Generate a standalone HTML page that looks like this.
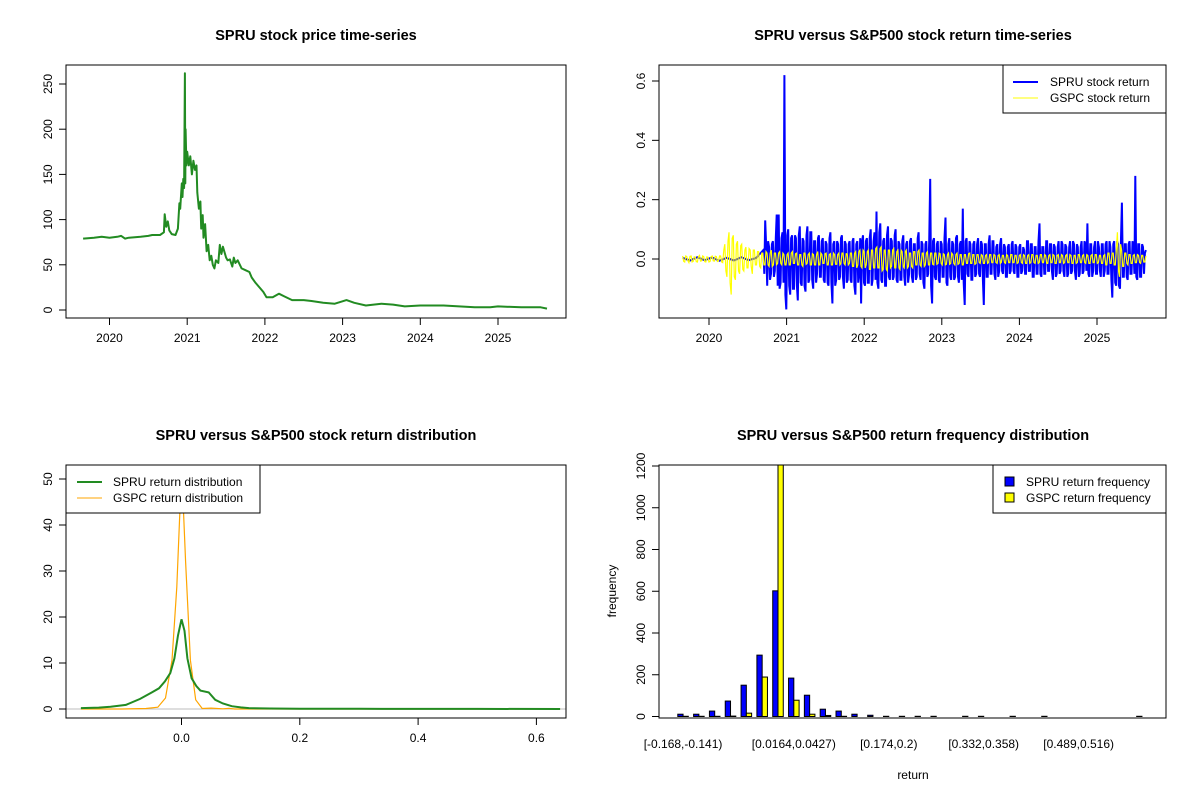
<!DOCTYPE html>
<html><head><meta charset="utf-8"><style>
body{margin:0;background:#fff}
svg{display:block;font-family:"Liberation Sans",Arial,sans-serif}
</style></head><body>
<svg id="c" width="1200" height="800" viewBox="0 0 1200 800" xmlns="http://www.w3.org/2000/svg">
<rect width="1200" height="800" fill="#fff"/>
</svg>
<script>
// ---- Panel 1 data: price
const priceDates=[2019.66,2019.8,2019.9,2020.0,2020.1,2020.15,2020.2,2020.25,2020.4,2020.5,2020.55,2020.65,2020.7,2020.71,2020.73,2020.75,2020.77,2020.8,2020.85,2020.88,2020.9,2020.91,2020.93,2020.94,2020.95,2020.96,2020.97,2020.975,2020.98,2020.99,2021.0,2021.02,2021.04,2021.06,2021.08,2021.1,2021.12,2021.13,2021.15,2021.17,2021.18,2021.2,2021.21,2021.23,2021.25,2021.27,2021.29,2021.31,2021.33,2021.35,2021.37,2021.4,2021.42,2021.44,2021.46,2021.5,2021.52,2021.55,2021.58,2021.6,2021.62,2021.65,2021.7,2021.75,2021.8,2021.83,2021.88,2021.92,2021.98,2022.02,2022.1,2022.18,2022.25,2022.35,2022.5,2022.6,2022.75,2022.9,2023.05,2023.15,2023.3,2023.5,2023.65,2023.8,2024.0,2024.3,2024.5,2024.7,2024.9,2025.0,2025.3,2025.55,2025.63];
const priceValues=[79,80,81,80,81,82,79,80,81,82,83,83,86,106,92,98,88,84,83,90,118,112,140,125,145,135,262,140,200,160,175,160,170,150,165,155,160,130,112,120,90,105,80,95,65,72,55,60,50,46,55,52,72,62,70,58,55,56,48,58,52,55,46,44,42,36,30,26,20,14,14,18,15,11,11,10,8,7,11,8,5,7,6,4,5,5,4,3,3,4,3,3,1.5];
const priceYTicks=[0,50,100,150,200,250];
const yearTicks=[2020,2021,2022,2023,2024,2025];
// ---- Panel 2 data: returns (A = odd sessions, B = even sessions, interleaved)
const bluePre=[0.004,-0.005,0.006,-0.004,0.005,-0.006,0.004,-0.005,0.006,-0.004,0.003];
const blueReturns=[0.03,0.13,-0.09,0.04,-0.05,0.06,-0.04,0.15,0.15,-0.08,
0.09,0.62,-0.17,0.10,-0.12,0.08,-0.10,0.07,-0.14,0.11,
-0.09,0.06,-0.11,0.11,-0.07,0.09,-0.10,0.06,-0.05,0.08,
-0.06,0.07,-0.08,0.05,-0.09,0.09,-0.15,0.06,-0.07,0.05,
-0.06,0.08,-0.10,0.05,-0.07,0.06,-0.08,0.07,-0.12,0.06,
-0.05,-0.15,0.08,-0.09,0.07,-0.08,0.10,-0.07,0.09,0.16,
-0.10,0.12,-0.08,0.07,-0.09,0.11,-0.07,0.06,-0.06,0.10,
-0.08,0.05,-0.07,0.08,-0.09,0.06,-0.05,0.07,-0.08,0.05,
-0.06,0.09,-0.07,0.05,-0.10,0.06,-0.05,0.27,-0.15,0.07,
-0.07,0.06,-0.08,0.05,-0.06,0.14,-0.09,0.07,-0.07,0.05,
-0.06,0.08,-0.08,0.06,0.17,-0.155,0.07,-0.06,0.05,-0.07,
0.06,-0.05,0.07,-0.06,0.05,-0.155,0.05,-0.06,0.08,-0.05,
0.06,-0.07,0.05,-0.04,0.07,-0.05,0.04,-0.06,0.05,-0.04,
0.06,-0.05,0.04,-0.06,0.05,-0.04,0.03,-0.05,0.06,-0.04,
0.05,-0.06,0.04,-0.05,0.12,-0.06,0.04,-0.05,0.06,-0.04,
0.05,-0.07,0.04,-0.05,0.06,-0.04,0.05,-0.06,0.04,-0.05,
0.06,-0.04,0.05,-0.07,0.04,-0.05,0.06,-0.04,0.05,0.12,
-0.06,0.05,-0.04,0.06,-0.05,0.04,-0.06,0.05,-0.04,0.06,
-0.05,0.04,-0.13,0.06,-0.09,0.05,-0.10,0.19,-0.06,0.05,
-0.07,0.06,-0.05,0.04,0.28,-0.07,0.05,-0.06,0.04,0.02];
const blueReturnsB=[-0.05,0.04,0.06,-0.07,0.05,-0.06,0.07,-0.09,-0.10,0.07,
-0.08,-0.12,0.08,-0.09,0.07,-0.10,0.08,-0.09,0.08,-0.08,
0.07,-0.09,0.08,-0.08,0.09,-0.07,0.06,-0.08,0.07,-0.06,
0.06,-0.07,0.06,-0.08,0.07,-0.08,0.05,-0.09,0.06,-0.07,
0.07,-0.06,0.06,-0.08,0.05,-0.07,0.06,-0.09,0.05,-0.08,
0.07,0.06,-0.08,0.06,-0.08,0.07,-0.09,0.06,-0.07,-0.08,
0.09,-0.07,0.06,-0.09,0.08,-0.06,0.07,-0.07,0.08,-0.07,
0.06,-0.07,0.06,-0.06,0.05,-0.08,0.06,-0.06,0.05,-0.07,
0.07,-0.05,0.06,-0.08,0.05,-0.06,0.06,-0.09,0.06,-0.06,
0.05,-0.07,0.06,-0.06,0.07,-0.08,0.05,-0.06,0.06,-0.07,
0.07,-0.06,0.05,-0.07,-0.08,0.06,-0.05,0.06,-0.07,0.05,
-0.06,0.05,-0.05,0.06,-0.07,0.05,-0.06,0.05,-0.05,0.06,
-0.05,0.04,-0.06,0.05,-0.04,0.05,-0.06,0.04,-0.05,0.05,
-0.04,0.05,-0.06,0.04,-0.05,0.04,-0.05,0.06,-0.04,0.05,
-0.06,0.04,-0.05,0.06,-0.05,0.04,-0.05,0.06,-0.04,0.05,
-0.04,0.05,-0.06,0.04,-0.05,0.06,-0.04,0.05,-0.06,0.04,
-0.05,0.06,-0.04,0.05,-0.06,0.04,-0.05,0.06,-0.04,-0.05,
0.05,-0.06,0.04,-0.05,0.06,-0.04,0.05,-0.06,0.05,-0.05,
0.06,-0.07,0.05,-0.08,0.06,-0.09,0.07,-0.06,0.05,-0.06,
0.05,-0.05,0.06,-0.05,-0.06,0.05,-0.06,0.05,-0.05,0.03];
const yellowReturns=[0.01,-0.01,0.008,-0.012,0.01,-0.008,0.006,-0.01,0.012,-0.006,
0.008,-0.01,0.006,-0.008,0.01,-0.007,0.008,-0.006,0.01,-0.012,
0.05,-0.06,0.09,-0.12,0.08,-0.07,0.06,-0.05,0.05,-0.04,
0.04,-0.03,0.03,-0.05,0.03,-0.02,0.025,-0.03,0.02,-0.02,
0.02,-0.025,0.03,-0.02,0.02,-0.015,0.025,-0.02,0.015,-0.02,
0.02,-0.02,0.025,-0.015,0.02,-0.02,0.015,-0.025,0.02,-0.015,
0.02,-0.02,0.015,-0.02,0.025,-0.02,0.015,-0.015,0.02,-0.02,
0.018,-0.02,0.015,-0.018,0.02,-0.015,0.02,-0.02,0.018,-0.015,
0.02,-0.025,0.025,-0.02,0.03,-0.03,0.025,-0.02,0.03,-0.035,
0.03,-0.03,0.04,-0.03,0.04,-0.035,0.03,-0.04,0.03,-0.025,
0.035,-0.03,0.03,-0.035,0.025,-0.03,0.03,-0.025,0.02,-0.03,
0.025,-0.02,0.03,-0.025,0.02,-0.02,0.025,-0.02,0.02,-0.02,
0.02,-0.015,0.018,-0.02,0.015,-0.018,0.02,-0.015,0.015,-0.02,
0.02,-0.015,0.015,-0.02,0.015,-0.015,0.02,-0.015,0.015,-0.015,
0.015,-0.015,0.012,-0.015,0.015,-0.012,0.015,-0.012,0.012,-0.015,
0.015,-0.012,0.012,-0.015,0.012,-0.012,0.015,-0.012,0.012,-0.012,
0.015,-0.015,0.012,-0.015,0.015,-0.012,0.015,-0.015,0.012,-0.012,
0.015,-0.012,0.012,-0.015,0.015,-0.012,0.012,-0.015,0.015,-0.012,
0.012,-0.012,0.015,-0.012,0.012,-0.015,0.012,-0.012,0.015,-0.012,
0.015,-0.015,0.012,-0.015,0.015,-0.012,0.015,-0.012,0.012,-0.015,
0.015,-0.02,0.02,-0.015,0.02,-0.02,0.09,-0.06,0.03,-0.025,
0.02,-0.02,0.015,-0.015,0.015,-0.012,0.012,-0.015,0.012,-0.01];
const yellowReturnsB=[-0.008,0.01,-0.006,0.009,-0.01,0.007,-0.009,0.008,-0.007,0.01,
-0.009,0.007,-0.01,0.008,-0.006,0.009,-0.008,0.01,-0.01,0.03,
-0.04,0.06,-0.08,0.07,-0.06,0.05,-0.04,0.045,-0.035,0.03,
-0.03,0.035,-0.025,0.03,-0.02,0.025,-0.025,0.02,-0.02,0.025,
-0.02,0.02,-0.025,0.02,-0.02,0.02,-0.015,0.02,-0.02,0.015,
-0.02,0.02,-0.015,0.018,-0.02,0.015,-0.02,0.02,-0.018,0.015,
-0.02,0.018,-0.02,0.015,-0.02,0.02,-0.015,0.018,-0.02,0.015,
-0.02,0.02,-0.018,0.015,-0.02,0.02,-0.015,0.018,-0.02,0.02,
-0.025,0.02,-0.03,0.025,-0.025,0.03,-0.03,0.025,-0.035,0.03,
-0.03,0.035,-0.03,0.035,-0.04,0.03,-0.035,0.03,-0.03,0.03,
-0.03,0.025,-0.03,0.03,-0.025,0.025,-0.03,0.02,-0.025,0.025,
-0.02,0.025,-0.02,0.02,-0.025,0.02,-0.02,0.02,-0.018,0.02,
-0.018,0.02,-0.015,0.018,-0.02,0.015,-0.018,0.02,-0.015,0.015,
-0.018,0.015,-0.02,0.015,-0.015,0.018,-0.015,0.015,-0.018,0.015,
-0.012,0.015,-0.015,0.012,-0.015,0.015,-0.012,0.015,-0.012,0.012,
-0.015,0.012,-0.012,0.015,-0.012,0.015,-0.012,0.012,-0.015,0.012,
-0.012,0.015,-0.015,0.012,-0.015,0.015,-0.012,0.012,-0.015,0.015,
-0.012,0.015,-0.015,0.012,-0.012,0.015,-0.015,0.012,-0.012,0.015,
-0.015,0.012,-0.012,0.015,-0.015,0.012,-0.015,0.015,-0.012,0.012,
-0.012,0.015,-0.015,0.012,-0.012,0.015,-0.015,0.012,-0.015,0.012,
-0.02,0.02,-0.015,0.02,-0.02,0.03,-0.04,0.05,-0.025,0.02,
-0.015,0.015,-0.015,0.012,-0.012,0.015,-0.012,0.012,-0.01,0.01];
const retYTicks=[0,0.2,0.4,0.6];
// ---- Panel 3 data: densities
const greenX=[-0.17,-0.14,-0.12,-0.094,-0.07,-0.05,-0.038,-0.028,-0.019,-0.012,-0.006,0,0.005,0.01,0.017,0.025,0.032,0.046,0.057,0.07,0.085,0.1,0.114,0.15,0.2,0.3,0.4,0.5,0.64];
const greenY=[0.2,0.3,0.5,0.9,2.2,3.6,4.5,6,7.8,11,16,19.5,17,11,6.7,5,4,3.6,2,1.2,0.6,0.35,0.2,0.1,0.06,0.04,0.03,0.02,0.01];
const orangeX=[-0.17,-0.1,-0.06,-0.04,-0.027,-0.016,-0.008,-0.003,0,0.003,0.007,0.015,0.024,0.035,0.05,0.07,0.08,0.09,0.1,0.64];
const orangeY=[0,0,0.1,0.4,2.4,10.6,26.5,42,48,44,32,10.6,2,0.1,0.2,0.05,0.15,0,0,0];
const densYTicks=[0,10,20,30,40,50];
const densXTicks=[0,0.2,0.4,0.6];
// ---- Panel 4 data: histogram
const binLabels=["[-0.168,-0.141)","[-0.141,-0.115)","[-0.115,-0.0886)","[-0.0886,-0.0623)","[-0.0623,-0.036)","[-0.036,-0.0099)","[-0.0099,0.0164)","[0.0164,0.0427)","[0.0427,0.069)","[0.069,0.0953)","[0.0953,0.122)","[0.122,0.148)","[0.148,0.174)","[0.174,0.2)","[0.2,0.227)","[0.227,0.253)","[0.253,0.279)","[0.279,0.306)","[0.306,0.332)","[0.332,0.358)","[0.358,0.385)","[0.385,0.411)","[0.411,0.437)","[0.437,0.463)","[0.463,0.489)","[0.489,0.516)","[0.516,0.542)","[0.542,0.568)","[0.568,0.595)","[0.595,0.621)"];
const spruFreq=[11,11,26,74,150,294,602,184,102,35,26,11,6,1,1,1,1,0,1,1,0,1,0,1,0,0,0,0,0,1];
const gspcFreq=[1,1,1,2,16,189,1700,78,11,5,1,0,0,0,0,0,0,0,0,0,0,0,0,0,0,0,0,0,0,0];
const histYTicks=[0,200,400,600,800,1000,1200];
const shownLabels=[0,7,13,19,25];

const NS="http://www.w3.org/2000/svg";
const svg=document.getElementById('c');
function mk(tag,attrs,parent){const e=document.createElementNS(NS,tag);for(const k in attrs)e.setAttribute(k,attrs[k]);(parent||svg).appendChild(e);return e;}
function txt(s,x,y,opts,parent){const t=mk('text',Object.assign({x:x,y:y,'font-size':12,fill:'#000','text-anchor':'middle'},opts||{}),parent);t.textContent=s;return t;}
function lin(d0,d1,r0,r1){return v=>r0+(v-d0)*(r1-r0)/(d1-d0);}
function box(x0,y0,x1,y1,name){const r=mk('rect',{x:x0,y:y0,width:x1-x0,height:y1-y0,fill:'none',stroke:'#000','stroke-width':1});}
function yAxis(ticks,sy,x,fmt,name){const g=mk('g',{});
 mk('line',{x1:x,x2:x,y1:sy(ticks[0]),y2:sy(ticks[ticks.length-1]),stroke:'#000'},g);
 ticks.forEach(v=>{const y=sy(v);mk('line',{x1:x-7,x2:x,y1:y,y2:y,stroke:'#000'},g);
  txt(fmt(v),x-14,y,{transform:`rotate(-90 ${x-14} ${y})`},g);});}
function xAxis(ticks,sx,y,fmt,name){const g=mk('g',{});
 mk('line',{x1:sx(ticks[0]),x2:sx(ticks[ticks.length-1]),y1:y,y2:y,stroke:'#000'},g);
 ticks.forEach(v=>{const x=sx(v);mk('line',{x1:x,x2:x,y1:y,y2:y+7,stroke:'#000'},g);txt(fmt(v),x,y+24,{},g);});}
function title(s,x,y,name){const t=txt(s,x,y,{'font-size':14.5,'font-weight':'bold'});}
function clip(id,x0,y0,x1,y1){const d=mk('clipPath',{id:id});mk('rect',{x:x0,y:y0,width:x1-x0,height:y1-y0},d);}
function interleave(a,b){const out=[];a.forEach((v,i)=>{out.push(v);if(i<b.length)out.push(b[i]);});return out;}

// ===== Panel 1
{const sx=lin(2020,2025,109.5,498),sy=lin(0,250,310,84);
 title('SPRU stock price time-series',316,40,'price-title');
 const pts=priceDates.map((d,i)=>sx(d).toFixed(1)+','+sy(priceValues[i]).toFixed(1)).join(' ');
 const p=mk('polyline',{points:pts,fill:'none',stroke:'#228B22','stroke-width':2,'stroke-linejoin':'round'});
 
 box(66,65,566,318,'price-plot-frame');
 yAxis(priceYTicks,sy,66,v=>String(v),'price-y-axis');
 xAxis(yearTicks,sx,318,v=>String(v),'price-x-axis');}

// ===== Panel 2
{const sx=lin(2020,2025,709,1097),sy=lin(0,0.6,259,81);
 title('SPRU versus S&P500 stock return time-series',913,40,'return-title');
 const blue=interleave(blueReturns,blueReturnsB);
 const n=blue.length,t0=2020.70,t1=2025.63;
 let pts=bluePre.map((v,i)=>sx(2019.66+i*(t0-2019.66)/(bluePre.length)).toFixed(1)+','+sy(v).toFixed(1));
 pts=pts.concat(blue.map((v,i)=>sx(t0+i*(t1-t0)/(n-1)).toFixed(1)+','+sy(v).toFixed(1)));
 const b=mk('polyline',{points:pts.join(' '),fill:'none',stroke:'#0000FF','stroke-width':2});
 
 const yel=interleave(yellowReturns,yellowReturnsB);
 const m=yel.length,ys0=2019.66;
 const yp=yel.map((v,i)=>sx(ys0+i*(t1-ys0)/(m-1)).toFixed(1)+','+sy(v).toFixed(1)).join(' ');
 const y=mk('polyline',{points:yp,fill:'none',stroke:'#FFFF00','stroke-width':1.2});
 
 box(659,65,1166,318,'return-plot-frame');
 yAxis(retYTicks,sy,659,v=>v.toFixed(1),'return-y-axis');
 xAxis(yearTicks,sx,318,v=>String(v),'return-x-axis');
 const lg=mk('g',{});
 mk('rect',{x:1003,y:65,width:163,height:48,fill:'#fff',stroke:'#000'},lg);
 mk('line',{x1:1013,x2:1038,y1:82,y2:82,stroke:'#0000FF','stroke-width':2},lg);
 mk('line',{x1:1013,x2:1038,y1:98,y2:98,stroke:'#FFFF00','stroke-width':1},lg);
 txt('SPRU stock return',1050,86,{'text-anchor':'start'},lg);
 txt('GSPC stock return',1050,102,{'text-anchor':'start'},lg);}

// ===== Panel 3
{const sx=lin(0,0.2,181.5,299.8),sy=lin(0,50,709,479);
 title('SPRU versus S&P500 stock return distribution',316,440,'density-title');
 clip('c3',66,465,566,718);
 const z=mk('line',{x1:66,x2:566,y1:sy(0),y2:sy(0),stroke:'#bebebe'});
 
 const g=mk('g',{'clip-path':'url(#c3)'});
 const op=mk('polyline',{points:orangeX.map((x,i)=>sx(x).toFixed(1)+','+sy(orangeY[i]).toFixed(1)).join(' '),fill:'none',stroke:'#FFA500','stroke-width':1.2},g);
 
 const gp=mk('polyline',{points:greenX.map((x,i)=>sx(x).toFixed(1)+','+sy(greenY[i]).toFixed(1)).join(' '),fill:'none',stroke:'#228B22','stroke-width':2},g);
 
 box(66,465,566,718,'density-plot-frame');
 yAxis(densYTicks,sy,66,v=>String(v),'density-y-axis');
 xAxis(densXTicks,sx,718,v=>v.toFixed(1),'density-x-axis');
 const lg=mk('g',{});
 mk('rect',{x:66,y:465,width:194,height:48,fill:'#fff',stroke:'#000'},lg);
 mk('line',{x1:77,x2:102,y1:482,y2:482,stroke:'#228B22','stroke-width':2},lg);
 mk('line',{x1:77,x2:102,y1:498,y2:498,stroke:'#FFA500','stroke-width':1},lg);
 txt('SPRU return distribution',113,486,{'text-anchor':'start'},lg);
 txt('GSPC return distribution',113,502,{'text-anchor':'start'},lg);}

// ===== Panel 4
{const n=binLabels.length;const units=3*n;const ext=(units-1)*0.04;
 const sx=lin(1-ext,units+ext,659,1166),sy=lin(0,1200,716.5,466);
 title('SPRU versus S&P500 return frequency distribution',913,440,'histogram-title');
 clip('c4',659,465,1166,718);
 const g=mk('g',{'clip-path':'url(#c4)'});
 binLabels.forEach((lab,i)=>{const l=1+3*i;
  const b=mk('rect',{x:sx(l),y:sy(spruFreq[i]),width:sx(l+1)-sx(l),height:sy(0)-sy(spruFreq[i]),fill:'#0000FF',stroke:'#000','stroke-width':1},g);
  
  const yb=mk('rect',{x:sx(l+1),y:sy(gspcFreq[i]),width:sx(l+2)-sx(l+1),height:sy(0)-sy(gspcFreq[i]),fill:'#FFFF00',stroke:'#000','stroke-width':1},g);
  });
 box(659,465,1166,718,'histogram-plot-frame');
 yAxis(histYTicks,sy,659,v=>String(v),'histogram-y-axis');
 const xl=mk('g',{});
 shownLabels.forEach(i=>{txt(binLabels[i],sx(2+3*i),748,{},xl);});
 const xt=txt('return',913,779,{});
 const yt=txt('frequency',616,591,{transform:'rotate(-90 616 591)'});
 const lg=mk('g',{});
 mk('rect',{x:993,y:465,width:173,height:48,fill:'#fff',stroke:'#000'},lg);
 mk('rect',{x:1005,y:477,width:9,height:9,fill:'#0000FF',stroke:'#000'},lg);
 mk('rect',{x:1005,y:493,width:9,height:9,fill:'#FFFF00',stroke:'#000'},lg);
 txt('SPRU return frequency',1026,486,{'text-anchor':'start'},lg);
 txt('GSPC return frequency',1026,502,{'text-anchor':'start'},lg);}
</script>
</body></html>
